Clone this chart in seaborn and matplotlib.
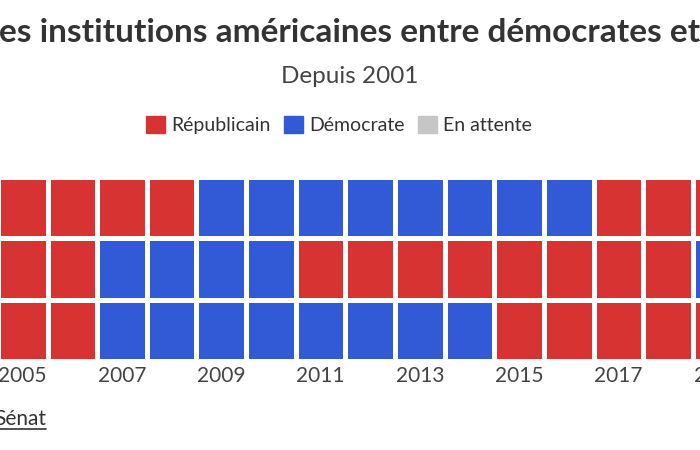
import numpy as np
import pandas as pd
import matplotlib
matplotlib.use("Agg")
import matplotlib.pyplot as plt
from matplotlib.colors import ListedColormap
from matplotlib.patches import Patch
from matplotlib.lines import Line2D
import seaborn as sns

# data: 0 = Républicain, 1 = Démocrate, 2 = En attente
years = list(range(2001, 2026))
presidence = [0] * 8 + [1] * 8 + [0] * 4 + [1] * 4 + [2]
chambre = [0] * 6 + [1] * 4 + [0] * 8 + [1] * 4 + [0] * 2 + [2]
senat = [1] * 2 + [0] * 4 + [1] * 8 + [0] * 6 + [1] * 4 + [2]
institutions = ['Présidence', 'Chambre des représentants', 'Sénat']
parties = ['Républicain', 'Démocrate', 'En attente']
colors = ['#d83333', '#3259d6', '#c6c6c6']

df = pd.DataFrame([presidence, chambre, senat], index=institutions, columns=years)

sns.set_theme(style='white')
plt.rcParams['font.family'] = ['Lato', 'DejaVu Sans']

fig = plt.figure(figsize=(7, 4.5), dpi=100)
# axes run past the right edge of the figure (cropped view)
ax = fig.add_axes([0, 1 - 360.5 / 450, 750 / 700, (360.5 - 177.5) / 450])

sns.heatmap(df, ax=ax, cmap=ListedColormap(colors), vmin=-0.5, vmax=2.5,
            cbar=False, linewidths=2.5, linecolor='white', square=False)

tick_years = [y for y in years if y % 2 == 1 and 2005 <= y <= 2019]
ax.set_xticks([years.index(y) + 0.5 for y in tick_years])
ax.set_xticklabels([str(y) for y in tick_years], rotation=0,
                   fontsize=15, color='#444444')
ax.set_xlim(4.043, 5 + (750 - 47.5) / 49.65)
ax.set_yticks([])
ax.set_xlabel('')
ax.set_ylabel('')
ax.tick_params(axis='x', length=0, pad=4)

# titles
fig.text(-0.002, 1 - 42 / 450, 'es institutions américaines entre démocrates et',
         ha='left', va='baseline', fontsize=24, fontweight='bold', color='#333333')
fig.text(0.5, 1 - 83 / 450, 'Depuis 2001', ha='center', va='baseline',
         fontsize=17.5, color='#444444')

# legend
handles = [Patch(facecolor=c, edgecolor=c, linewidth=1, joinstyle='round')
           for c in colors]
fig.legend(handles, parties, ncol=3, loc='center',
           bbox_to_anchor=(339 / 700, 1 - 125 / 450), frameon=False,
           fontsize=14, labelcolor='#333333', handlelength=0.98,
           handleheight=0.98, handletextpad=0.35, columnspacing=0.65)

# underlined link text
t = fig.text(-6 / 700, 1 - 425 / 450, 'Sénat', ha='left', va='baseline',
             fontsize=15, color='#333333')
fig.canvas.draw()
bb = t.get_window_extent()
yl = 1 - 429 / 450
fig.add_artist(Line2D([bb.x0 / 700, bb.x1 / 700], [yl, yl],
                      transform=fig.transFigure, color='#333333', linewidth=1.2))

fig.savefig('out.png', dpi=100)
